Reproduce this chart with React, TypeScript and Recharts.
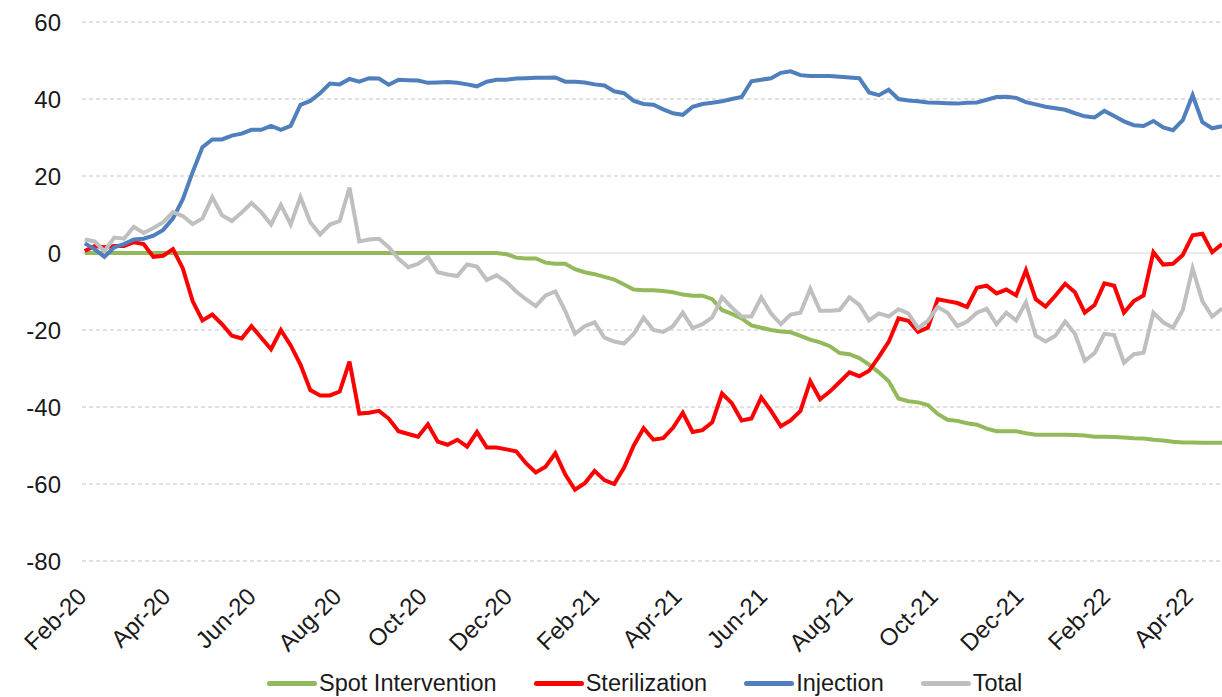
import { LineChart, Line, XAxis, YAxis, CartesianGrid } from 'recharts';

// weekly observations, Feb-2020 .. Apr-2022
const dates = [
    '2020-02-03', '2020-02-10', '2020-02-17', '2020-02-24', '2020-03-02', '2020-03-09', '2020-03-16', '2020-03-23', '2020-03-30',
    '2020-04-06', '2020-04-13', '2020-04-20', '2020-04-27', '2020-05-04', '2020-05-11', '2020-05-18', '2020-05-25',
    '2020-06-01', '2020-06-08', '2020-06-15', '2020-06-22', '2020-06-29', '2020-07-06', '2020-07-13', '2020-07-20', '2020-07-27',
    '2020-08-03', '2020-08-10', '2020-08-17', '2020-08-24', '2020-08-31', '2020-09-07', '2020-09-14', '2020-09-21', '2020-09-28',
    '2020-10-05', '2020-10-12', '2020-10-19', '2020-10-26', '2020-11-02', '2020-11-09', '2020-11-16', '2020-11-23', '2020-11-30',
    '2020-12-07', '2020-12-14', '2020-12-21', '2020-12-28',
    '2021-01-04', '2021-01-11', '2021-01-18', '2021-01-25', '2021-02-01', '2021-02-08', '2021-02-15', '2021-02-22',
    '2021-03-01', '2021-03-08', '2021-03-15', '2021-03-22', '2021-03-29', '2021-04-05', '2021-04-12', '2021-04-19', '2021-04-26',
    '2021-05-03', '2021-05-10', '2021-05-17', '2021-05-24', '2021-05-31', '2021-06-07', '2021-06-14', '2021-06-21', '2021-06-28',
    '2021-07-05', '2021-07-12', '2021-07-19', '2021-07-26', '2021-08-02', '2021-08-09', '2021-08-16', '2021-08-23', '2021-08-30',
    '2021-09-06', '2021-09-13', '2021-09-20', '2021-09-27', '2021-10-04', '2021-10-11', '2021-10-18', '2021-10-25',
    '2021-11-01', '2021-11-08', '2021-11-15', '2021-11-22', '2021-11-29', '2021-12-06', '2021-12-13', '2021-12-20', '2021-12-27',
    '2022-01-03', '2022-01-10', '2022-01-17', '2022-01-24', '2022-01-31', '2022-02-07', '2022-02-14', '2022-02-21', '2022-02-28',
    '2022-03-07', '2022-03-14', '2022-03-21', '2022-03-28', '2022-04-04', '2022-04-11', '2022-04-18', '2022-04-25',
];

const spotIntervention = [
    0, 0, 0, 0, 0, 0, 0, 0, 0,
    0, 0, 0, 0, 0, 0, 0, 0,
    0, 0, 0, 0, 0, 0, 0, 0, 0,
    0, 0, 0, 0, 0, 0, 0, 0, 0,
    0, 0, 0, 0, 0, 0, 0, 0, -0.3,
    -1.2, -1.4, -1.4, -2.5,
    -2.8, -2.8, -4.2, -5, -5.5, -6.2, -6.9, -8.2,
    -9.5, -9.7, -9.7, -9.9, -10.2, -10.8, -11.1, -11.1, -12,
    -14.8, -15.8, -17, -18.8, -19.4, -20, -20.4, -20.6, -21.5,
    -22.5, -23.2, -24.2, -26, -26.3, -27.3, -29, -31, -33.3,
    -37.8, -38.5, -38.8, -39.5, -41.8, -43.3, -43.6, -44.2,
    -44.6, -45.6, -46.3, -46.3, -46.3, -46.8, -47.2, -47.2, -47.2,
    -47.2, -47.3, -47.4, -47.7, -47.7, -47.8, -47.9, -48.1, -48.2,
    -48.5, -48.7, -49, -49.2, -49.2, -49.3, -49.3, -49.3,
];

const sterilization = [
    0.5, 1.8, 1.5, 1.8, 1.8, 2.8, 2.3, -1, -0.7,
    1, -4, -12.5, -17.5, -16, -18.5, -21.5, -22.2,
    -19, -22, -25, -20, -24, -29, -35.6, -37, -37,
    -36, -28.2, -41.7, -41.5, -41, -43, -46.3, -47, -47.7,
    -44.5, -49, -49.8, -48.5, -50.3, -46.5, -50.5, -50.5, -51,
    -51.5, -54.6, -57, -55.5,
    -52, -57.5, -61.5, -59.8, -56.6, -59, -60, -55.8,
    -50, -45.5, -48.5, -48.1, -45.4, -41.5, -46.5, -46, -44,
    -36.5, -39, -43.5, -43, -37.5, -41, -45, -43.5, -41,
    -33.3, -38, -36, -33.5, -31, -32, -30.6, -27, -23.1,
    -17, -17.6, -20.5, -19.4, -12, -12.5, -13, -14,
    -9, -8.5, -10.5, -9.5, -11, -4.5, -12, -13.9, -11.1,
    -8, -10.2, -15.5, -13.5, -7.9, -8.5, -15.5, -12.5, -11,
    0.2, -3, -2.8, -0.5, 4.6, 5, 0.2, 2.3,
];

const injection = [
    2.5, 1, -1, 1.5, 2.3, 3.5, 3.7, 4.5, 6,
    9, 14, 21, 27.5, 29.5, 29.5, 30.5, 31,
    32, 32, 33, 32, 33, 38.5, 39.5, 41.5, 44,
    43.8, 45.2, 44.5, 45.4, 45.3, 43.7, 45, 44.9, 44.8,
    44.2, 44.3, 44.4, 44.2, 43.8, 43.3, 44.5, 45, 45,
    45.3, 45.4, 45.5, 45.5,
    45.6, 44.5, 44.5, 44.3, 43.8, 43.5, 42, 41.5,
    39.5, 38.7, 38.5, 37.3, 36.3, 35.9, 38, 38.7, 39,
    39.4, 40, 40.5, 44.6, 45, 45.4, 46.8, 47.2, 46.2,
    46, 46, 46, 45.8, 45.6, 45.4, 41.7, 41, 42.4,
    40, 39.6, 39.4, 39.1, 39, 38.9, 38.8, 39,
    39.1, 39.8, 40.5, 40.6, 40.3, 39.2, 38.6, 38, 37.6,
    37.2, 36.3, 35.5, 35.2, 36.9, 35.6, 34.2, 33.2, 33,
    34.3, 32.6, 31.9, 34.5, 41, 34, 32.4, 32.9,
];

const total = [
    3.5, 3, 0.5, 4, 3.7, 6.8, 5.2, 6.5, 8,
    10.6, 9.6, 7.5, 9, 14.5, 9.8, 8.3, 10.5,
    13, 10.6, 7.4, 12.5, 7.4, 14.5, 8, 4.8, 7.4,
    8.3, 17, 3, 3.5, 3.7, 1.5, -1.5, -3.7, -2.8,
    -1, -5, -5.6, -6, -3, -3.5, -7, -5.8, -7.5,
    -10, -12, -13.8, -11,
    -10, -15, -21, -19, -18, -22, -23, -23.5,
    -21, -16.8, -20, -20.5, -19, -15.5, -19.5, -18.5, -16.7,
    -11.5, -14.2, -16.5, -16.5, -11.5, -15.7, -18.5, -16, -15.5,
    -9.3, -15, -15, -14.8, -11.5, -13.5, -17.5, -15.7, -16.5,
    -14.6, -15.7, -19.5, -17.6, -14, -15.5, -19, -17.8,
    -15.5, -14.5, -18.5, -15.5, -17.5, -12.8, -21.5, -23, -21.5,
    -17.8, -21, -28, -26, -21, -21.3, -28.5, -26.3, -25.9,
    -15.5, -18, -19.4, -14.8, -4, -12.5, -16.5, -14.4,
];

const tickDates = [
    '2020-02-01', '2020-04-01', '2020-06-01', '2020-08-01', '2020-10-01', '2020-12-01',
    '2021-02-01', '2021-04-01', '2021-06-01', '2021-08-01', '2021-10-01', '2021-12-01',
    '2022-02-01', '2022-04-01',
];
const tickLabels = [
    'Feb-20', 'Apr-20', 'Jun-20', 'Aug-20', 'Oct-20', 'Dec-20',
    'Feb-21', 'Apr-21', 'Jun-21', 'Aug-21', 'Oct-21', 'Dec-21',
    'Feb-22', 'Apr-22',
];
const yTicks = [-80, -60, -40, -20, 0, 20, 40, 60];

const series = [
    { key: 'spot', name: 'Spot Intervention', color: '#92b95a', values: spotIntervention },
    { key: 'steril', name: 'Sterilization', color: '#ff0000', values: sterilization },
    { key: 'inject', name: 'Injection', color: '#4f7fbd', values: injection },
    { key: 'total', name: 'Total', color: '#bfbfbf', values: total },
];

const toTime = (s: string) => {
    const [y, m, d] = s.split('-').map(Number);
    return Date.UTC(y, m - 1, d);
};

const rows = dates.map((d, i) => {
    const row: Record<string, number> = { t: toTime(d) };
    series.forEach((s) => { row[s.key] = s.values[i]; });
    return row;
});

const tickTimes = tickDates.map(toTime);
const FONT = '"Liberation Sans", Arial, sans-serif';

const YTick = ({ y, payload }: any) => (
    <text x={61} y={y} textAnchor="end" dominantBaseline="central" fontSize={24} fontFamily={FONT} fill="#1a1a1a">
        {payload.value}
    </text>
);

const XTick = ({ x, payload }: any) => {
    const idx = tickTimes.indexOf(payload.value);
    const ty = 592;
    return (
        <text
            x={x}
            y={ty}
            textAnchor="end"
            dominantBaseline="central"
            fontSize={24}
            fontFamily={FONT}
            fill="#1a1a1a"
            transform={`rotate(-45 ${x} ${ty})`}
        >
            {tickLabels[idx]}
        </text>
    );
};

const App = () => {
    return (
        <div style={{ position: 'absolute', left: 0, top: 0, width: 1222, height: 697, background: '#fff', overflow: 'hidden' }}>
            <LineChart width={1222} height={697} data={rows} margin={{ top: 22, right: 0, bottom: 76, left: 0 }}>
                <CartesianGrid vertical={false} horizontalValues={[-80, -60, -40, -20, 20, 40, 60]} stroke="#c4c4c4" strokeDasharray="4 3" />
                <CartesianGrid vertical={false} horizontalValues={[0]} stroke="#d6d6d6" />
                <XAxis
                    type="number"
                    dataKey="t"
                    domain={[toTime('2020-02-01'), toTime('2022-04-25')]}
                    ticks={tickTimes}
                    interval={0}
                    tick={<XTick />}
                    tickLine={false}
                    axisLine={false}
                    height={60}
                    allowDataOverflow
                />
                <YAxis
                    type="number"
                    domain={[-80, 60]}
                    ticks={yTicks}
                    interval={0}
                    width={82}
                    tick={<YTick />}
                    tickLine={false}
                    axisLine={false}
                />
                {series.map((s) => (
                    <Line
                        key={s.key}
                        type="linear"
                        dataKey={s.key}
                        name={s.name}
                        stroke={s.color}
                        strokeWidth={4}
                        dot={false}
                        isAnimationActive={false}
                    />
                ))}
            </LineChart>

            {/* Legend */}
            <div style={{ position: 'absolute', left: 267, top: 670, display: 'flex', alignItems: 'center', fontFamily: FONT, fontSize: 23.5, color: '#1a1a1a', whiteSpace: 'nowrap' }}>
                {series.map((s) => (
                    <div key={s.key} style={{ display: 'flex', alignItems: 'center', marginRight: 37 }}>
                        <span style={{ display: 'inline-block', width: 50, height: 5, borderRadius: 3, background: s.color, marginRight: 2 }} />
                        <span>{s.name}</span>
                    </div>
                ))}
            </div>
        </div>
    );
};

export default App;
